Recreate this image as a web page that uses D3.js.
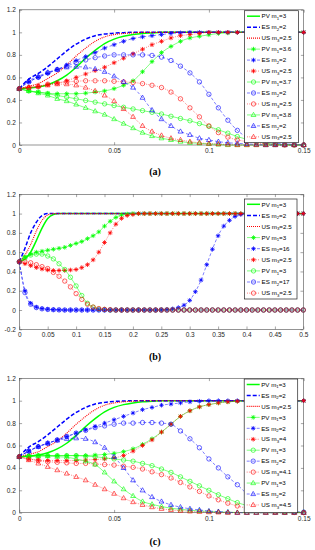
<!DOCTYPE html>
<html>
<head>
<meta charset="utf-8">
<script src="https://cdn.jsdelivr.net/npm/d3@7/dist/d3.min.js"></script>
<style>
body{margin:0;background:#fff;}
svg{display:block;font-family:"Liberation Sans",Arial,sans-serif;}
</style>
</head>
<body>
<div id="chart-area"></div>
<script>
// x grids (time)
var xA = [0,0.005,0.01,0.015,0.02,0.025,0.03,0.035,0.04,0.045,0.05,0.055,0.06,0.065,0.07,0.075,0.08,0.085,0.09,0.095,0.1,0.105,0.11,0.115,0.12,0.125,0.13,0.135,0.14,0.145,0.15];
var xB = [0,0.01,0.02,0.03,0.04,0.05,0.06,0.07,0.08,0.09,0.1,0.11,0.12,0.13,0.14,0.15,0.16,0.17,0.18,0.19,0.2,0.21,0.22,0.23,0.24,0.25,0.26,0.27,0.28,0.29,0.3,0.31,0.32,0.33,0.34,0.35,0.36,0.37,0.38,0.39,0.4,0.41,0.42,0.43,0.44,0.45,0.46,0.47,0.48,0.49,0.5];

// panel (a)
var aPV1 = [.5,.505,.515,.535,.57,.62,.69,.77,.84,.9,.94,.965,.98,.99,.995,1,1,1,1,1,1,1,1,1,1,1,1,1,1,1,1];
var aES1 = [.5,.585,.635,.695,.765,.835,.895,.94,.97,.985,.993,.997,1,1,1,1,1,1,1,1,1,1,1,1,1,1,1,1,1,1,1];
var aUS1 = [.5,.52,.545,.59,.64,.71,.79,.86,.92,.96,.98,.99,.995,1,1,1,1,1,1,1,1,1,1,1,1,1,1,1,1,1,1];
var aPV2 = [.5,.48,.47,.46,.455,.455,.455,.46,.47,.48,.5,.53,.57,.65,.74,.82,.875,.92,.95,.965,.978,.99,.995,1,1,1,1,1,1,1,1];
var aES2 = [.5,.56,.6,.635,.67,.71,.75,.785,.82,.86,.89,.92,.945,.96,.97,.98,.99,.995,1,1,1,1,1,1,1,1,1,1,1,1,1];
var aUS2 = [.5,.51,.52,.535,.55,.57,.6,.63,.66,.69,.73,.77,.81,.85,.89,.92,.95,.97,.98,.99,1,1,1,1,1,1,1,1,1,1,1];
var aPV3 = [.5,.48,.47,.455,.44,.425,.41,.395,.38,.365,.35,.335,.32,.305,.29,.275,.255,.235,.215,.19,.165,.135,.105,.075,.05,.03,.015,.008,.003,0,0];
var aES3 = [.5,.56,.6,.64,.67,.7,.73,.755,.775,.79,.8,.8,.8,.8,.795,.78,.75,.7,.64,.56,.45,.33,.22,.13,.07,.04,.025,.015,.01,.005,0];
var aUS3 = [.5,.51,.52,.54,.55,.56,.565,.57,.57,.57,.565,.56,.555,.545,.53,.51,.47,.41,.33,.25,.17,.11,.07,.045,.03,.02,.01,.005,0,0,0];
var aPV4 = [.5,.48,.46,.44,.41,.39,.36,.33,.3,.27,.23,.19,.15,.11,.08,.06,.045,.03,.02,.015,.01,.005,0,0,0,0,0,0,0,0,0];
var aES4 = [.5,.57,.61,.645,.67,.69,.695,.69,.675,.65,.61,.56,.51,.42,.31,.23,.17,.12,.09,.06,.045,.03,.02,.015,.01,.005,0,0,0,0,0];
var aUS4 = [.5,.51,.52,.53,.54,.54,.53,.51,.48,.44,.39,.32,.25,.17,.12,.085,.06,.045,.03,.02,.012,.008,.004,0,0,0,0,0,0,0,0];

// panel (b)
var bPV1 = [.5,.53,.6,.72,.85,.95,.99,1,1,1,1,1,1,1,1,1,1,1,1,1,1,1,1,1,1,1,1,1,1,1,1,1,1,1,1,1,1,1,1,1,1,1,1,1,1,1,1,1,1,1,1];
var bES1 = [.5,.64,.8,.91,.98,1,1,1,1,1,1,1,1,1,1,1,1,1,1,1,1,1,1,1,1,1,1,1,1,1,1,1,1,1,1,1,1,1,1,1,1,1,1,1,1,1,1,1,1,1,1];
var bUS1 = [.5,.57,.68,.82,.93,.985,1,1,1,1,1,1,1,1,1,1,1,1,1,1,1,1,1,1,1,1,1,1,1,1,1,1,1,1,1,1,1,1,1,1,1,1,1,1,1,1,1,1,1,1,1];
var bPV2 = [.5,.55,.58,.6,.61,.62,.63,.64,.65,.67,.69,.71,.74,.77,.81,.87,.92,.96,.985,.995,1,1,1,1,1,1,1,1,1,1,1,1,1,1,1,1,1,1,1,1,1,1,1,1,1,1,1,1,1,1,1];
var bES2 = [.5,.2,.07,.03,.015,.008,.004,.002,0,0,0,0,0,0,0,0,0,0,0,0,0,0,0,0,0,.002,.005,.012,.025,.05,.1,.19,.31,.47,.63,.77,.87,.93,.97,.99,1,1,1,1,1,1,1,1,1,1,1];
var bUS2 = [.5,.48,.46,.44,.425,.415,.41,.41,.41,.415,.42,.44,.47,.52,.6,.7,.8,.89,.95,.98,.99,1,1,1,1,1,1,1,1,1,1,1,1,1,1,1,1,1,1,1,1,1,1,1,1,1,1,1,1,1,1];
var bPV3 = [.5,.54,.57,.58,.58,.56,.53,.48,.42,.34,.25,.15,.07,.03,.01,.005,0,0,0,0,0,0,0,0,0,0,0,0,0,0,0,0,0,0,0,0,0,0,0,0,0,0,0,0,0,0,0,0,0,0,0];
var bES3 = [.5,.18,.06,.025,.012,.006,.003,.001,0,0,0,0,0,0,0,0,0,0,0,0,0,0,0,0,0,0,0,0,0,0,0,0,0,0,0,0,0,0,0,0,0,0,0,0,0,0,0,0,0,0,0];
var bUS3 = [.5,.5,.49,.47,.45,.43,.39,.35,.3,.24,.17,.11,.06,.03,.015,.007,.003,0,0,0,0,0,0,0,0,0,0,0,0,0,0,0,0,0,0,0,0,0,0,0,0,0,0,0,0,0,0,0,0,0,0];

// panel (c) - first three same as (a)
var cPV2 = [.5,.505,.51,.51,.51,.51,.51,.51,.515,.52,.53,.545,.57,.61,.66,.72,.79,.86,.91,.945,.965,.98,.99,.995,1,1,1,1,1,1,1];
var cES2 = [.5,.55,.59,.62,.65,.68,.71,.74,.77,.8,.83,.86,.89,.92,.94,.96,.97,.98,.99,.995,1,1,1,1,1,1,1,1,1,1,1];
var cUS2 = [.5,.48,.47,.465,.465,.465,.465,.47,.475,.48,.49,.51,.55,.6,.65,.72,.79,.86,.91,.945,.965,.98,.99,.995,1,1,1,1,1,1,1];
var cPV3 = [.5,.505,.51,.51,.51,.51,.51,.505,.5,.49,.48,.47,.46,.44,.42,.39,.36,.32,.28,.24,.2,.16,.125,.09,.065,.045,.03,.02,.012,.006,.003];
var cES3 = [.5,.55,.59,.62,.65,.68,.71,.735,.76,.775,.79,.8,.8,.805,.805,.8,.79,.73,.66,.58,.48,.4,.32,.25,.17,.12,.07,.04,.02,.01,.005];
var cUS3 = [.5,.48,.465,.455,.45,.445,.44,.44,.435,.43,.425,.415,.405,.39,.365,.34,.31,.27,.23,.19,.15,.115,.085,.06,.04,.025,.015,.008,.004,.002,0];
var cPV4 = [.5,.505,.505,.505,.5,.495,.48,.46,.43,.36,.28,.21,.15,.1,.075,.055,.04,.03,.022,.016,.011,.007,.004,.002,0,0,0,0,0,0,0];
var cES4 = [.5,.55,.59,.62,.645,.66,.665,.66,.63,.58,.5,.4,.29,.2,.14,.1,.07,.05,.035,.025,.015,.01,.005,0,0,0,0,0,0,0,0];
var cUS4 = [.5,.47,.44,.41,.38,.35,.32,.29,.25,.21,.17,.13,.095,.07,.05,.035,.025,.018,.012,.008,.005,.003,0,0,0,0,0,0,0,0,0];

// ticks
var xTicksAC = [0,0.05,0.1,0.15];
var yTicksAC = [0,0.2,0.4,0.6,0.8,1,1.2];
var xTicksB = [0,0.05,0.1,0.15,0.2,0.25,0.3,0.35,0.4,0.45,0.5];
var yTicksB = [-0.2,0,0.2,0.4,0.6,0.8,1,1.2];

// legend entries [name, subscript, value]
var legA = [['PV','1','3'],['ES','2','2'],['US','3','2.5'],['PV','1','3.6'],['ES','2','2'],['US','3','2.5'],['PV','1','3.7'],['ES','2','2'],['US','3','2.5'],['PV','1','3.8'],['ES','2','2'],['US','3','2.5']];
var legB = [['PV','1','3'],['ES','2','2'],['US','3','2.5'],['PV','1','3'],['ES','2','16'],['US','3','2.5'],['PV','1','3'],['ES','2','17'],['US','3','2.5']];
var legC = [['PV','1','3'],['ES','2','2'],['US','3','2.5'],['PV','1','3'],['ES','2','2'],['US','3','4'],['PV','1','3'],['ES','2','2'],['US','3','4.1'],['PV','1','3'],['ES','2','2'],['US','3','4.5']];

var svg = d3.select('#chart-area').append('svg')
    .attr('width', 315)
    .attr('height', 550);

// style per kind (PV / ES / US) and per group (no marker, *, o, ^)
var colors = ['#00ff00','#0000ff','#ff0000'];
var mainDash = [null,'4,2','1,1'];
var thinDash = [null,'3,2','1,1.2'];
var markerType = [null,'star','circle','tri'];

function drawMarker(g, type, color, x, y) {
    if (type === 'circle') {
        g.append('circle').attr('cx', x).attr('cy', y).attr('r', 2.2)
            .attr('fill','none').attr('stroke', color).attr('stroke-width', 0.6);
    } else if (type === 'tri') {
        g.append('path').attr('transform','translate('+x+','+y+')')
            .attr('d','M0,-2.6L2.4,1.6L-2.4,1.6Z')
            .attr('fill','none').attr('stroke', color).attr('stroke-width', 0.6);
    } else if (type === 'star') {
        g.append('path').attr('transform','translate('+x+','+y+')')
            .attr('d','M0,-2.3V2.3M-2.3,0H2.3M-1.6,-1.6L1.6,1.6M-1.6,1.6L1.6,-1.6')
            .attr('fill','none').attr('stroke', color).attr('stroke-width', 0.8);
    }
}

function panel(p) {
    var x = d3.scaleLinear().domain(p.xDom).range([19.3, p.right]);
    var y = d3.scaleLinear().domain(p.yDom).range([p.bottom, p.top]);
    var g = svg.append('g');
    var fmt = function(d){ return String(d); };

    // box + ticks inside, like matlab
    g.append('rect').attr('x', 19.3).attr('y', p.top)
        .attr('width', p.right - 19.3).attr('height', p.bottom - p.top)
        .attr('fill','#fff').attr('stroke','#4d4d4d').attr('stroke-width',0.6);

    var ax = [
        [d3.axisBottom(x).tickValues(p.xTicks).tickFormat(fmt), 'translate(0,'+p.bottom+')'],
        [d3.axisTop(x).tickValues(p.xTicks).tickFormat(''), 'translate(0,'+p.top+')'],
        [d3.axisLeft(y).tickValues(p.yTicks).tickFormat(fmt), 'translate(19.3,0)'],
        [d3.axisRight(y).tickValues(p.yTicks).tickFormat(''), 'translate('+p.right+',0)']
    ];
    ax.forEach(function(a){
        var s = g.append('g').attr('transform', a[1])
            .call(a[0].tickSizeInner(-2.8).tickSizeOuter(0).tickPadding(3.5));
        s.select('.domain').remove();
        s.selectAll('line').attr('stroke','#4d4d4d').attr('stroke-width',0.5);
        s.selectAll('text').attr('fill','#262626').attr('font-size','6.5px')
            .attr('font-family','"Liberation Sans",Arial,sans-serif');
    });

    // series
    p.series.forEach(function(vals, i){
        var kind = i % 3, grp = Math.floor(i / 3);
        var pts = vals.map(function(v, k){ return [p.x[k], v]; });
        var line = d3.line()
            .x(function(d){ return x(d[0]); })
            .y(function(d){ return y(d[1]); })
            .curve(d3.curveMonotoneX);
        var dash = grp === 0 ? mainDash[kind] : thinDash[kind];
        g.append('path').attr('d', line(pts))
            .attr('fill','none').attr('stroke', colors[kind])
            .attr('stroke-width', grp === 0 ? (kind === 2 ? 1.1 : 1.5) : 0.5)
            .attr('stroke-dasharray', dash);
        if (markerType[grp]) {
            var mg = g.append('g');
            pts.forEach(function(d){ drawMarker(mg, markerType[grp], colors[kind], x(d[0]), y(d[1])); });
        }
    });

    // legend
    var L = p.leg;
    var lg = g.append('g');
    lg.append('rect').attr('x', L.x).attr('y', L.y).attr('width', L.w).attr('height', L.h)
        .attr('fill','#fff').attr('stroke','#222').attr('stroke-width',0.7);
    p.labels.forEach(function(lab, i){
        var kind = i % 3, grp = Math.floor(i / 3);
        var cy = L.first + i * L.pitch;
        lg.append('line').attr('x1', L.x + 2.5).attr('x2', L.x + 15.5)
            .attr('y1', cy).attr('y2', cy)
            .attr('stroke', colors[kind])
            .attr('stroke-width', grp === 0 ? (kind === 2 ? 1.1 : 1.5) : 0.5)
            .attr('stroke-dasharray', grp === 0 ? mainDash[kind] : thinDash[kind]);
        if (markerType[grp]) drawMarker(lg, markerType[grp], colors[kind], L.x + 9, cy);
        var t = lg.append('text').attr('x', L.x + 17).attr('y', cy + 2.2)
            .attr('font-size','6.2px').attr('fill','#000');
        t.append('tspan').text(lab[0] + ' m');
        t.append('tspan').attr('font-size','4.3px').attr('dy', 1.4).text(lab[1]);
        t.append('tspan').attr('dy', -1.4).text('=' + lab[2]);
    });

    // panel tag
    g.append('text').attr('x', 155).attr('y', p.tagY)
        .attr('text-anchor','middle')
        .attr('font-family','"Liberation Serif","Times New Roman",serif')
        .attr('font-weight','bold').attr('font-size','10px')
        .text(p.tag);
}

panel({
    top: 9.8, bottom: 145, right: 303.7,
    xDom: [0, 0.15], yDom: [0, 1.2], xTicks: xTicksAC, yTicks: yTicksAC, x: xA,
    series: [aPV1, aES1, aUS1, aPV2, aES2, aUS2, aPV3, aES3, aUS3, aPV4, aES4, aUS4],
    labels: legA,
    leg: {x: 244.5, y: 10.7, w: 54, h: 132, first: 16.2, pitch: 10.97},
    tag: '(a)', tagY: 175
});

panel({
    top: 194.3, bottom: 329.3, right: 303.3,
    xDom: [0, 0.5], yDom: [-0.2, 1.2], xTicks: xTicksB, yTicks: yTicksB, x: xB,
    series: [bPV1, bES1, bUS1, bPV2, bES2, bUS2, bPV3, bES3, bUS3],
    labels: legB,
    leg: {x: 244.5, y: 199, w: 52.5, h: 100, first: 204.3, pitch: 11.1},
    tag: '(b)', tagY: 360
});

panel({
    top: 378.3, bottom: 512.7, right: 303.7,
    xDom: [0, 0.15], yDom: [0, 1.2], xTicks: xTicksAC, yTicks: yTicksAC, x: xA,
    series: [aPV1, aES1, aUS1, cPV2, cES2, cUS2, cPV3, cES3, cUS3, cPV4, cES4, cUS4],
    labels: legC,
    leg: {x: 244.2, y: 379, w: 53.5, h: 133.7, first: 384.5, pitch: 10.95},
    tag: '(c)', tagY: 545
});
</script>
</body>
</html>
